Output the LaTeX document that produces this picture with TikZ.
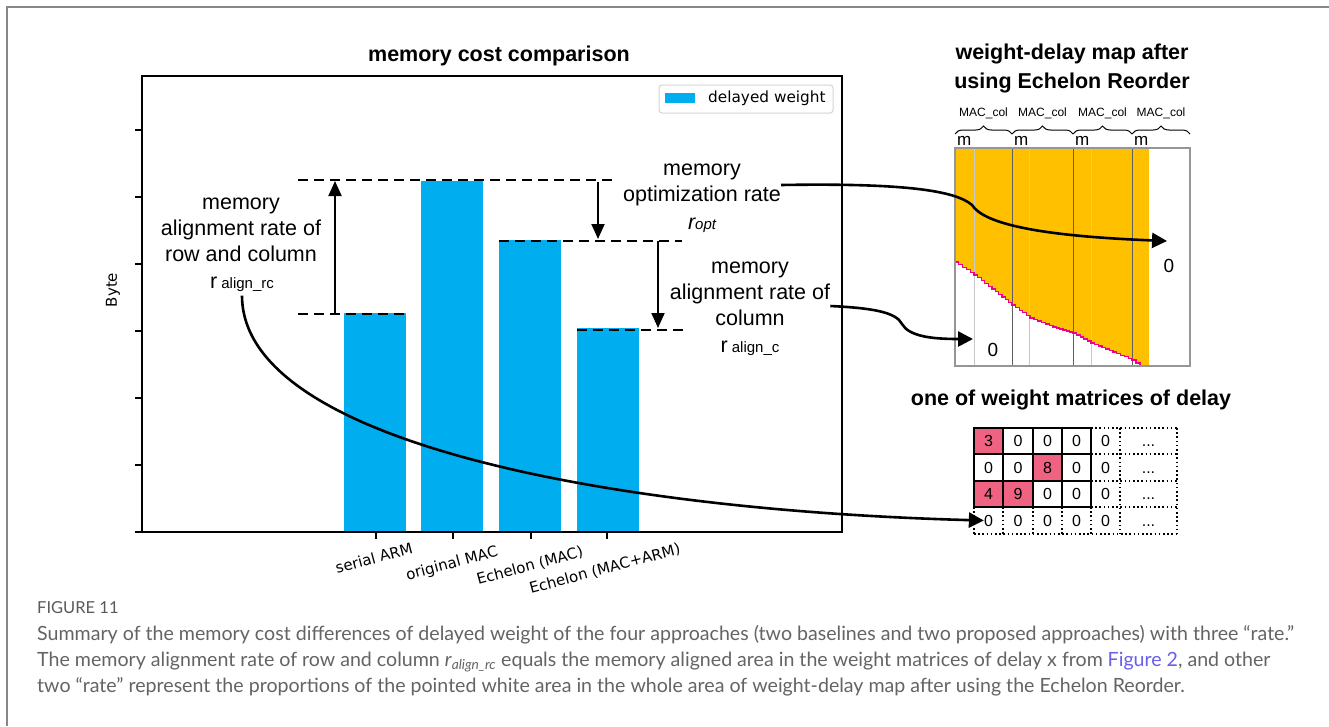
\documentclass[tikz,border=0pt]{standalone}
\usepackage{fontspec}
\setmainfont{Liberation Sans}
\newfontfamily\mplfont{DejaVu Sans}
\newfontfamily\capfont{Lato}
\usetikzlibrary{arrows.meta,decorations.pathreplacing}

\definecolor{barblue}{RGB}{0,174,239}
\definecolor{mapgold}{RGB}{255,192,0}
\definecolor{cellpink}{RGB}{240,98,130}
\definecolor{framegray}{RGB}{135,135,135}
\definecolor{capgray}{RGB}{100,100,100}
\definecolor{linkblue}{RGB}{105,95,235}
\definecolor{legendgray}{RGB}{212,212,212}
\definecolor{sepgray}{RGB}{95,95,95}
\definecolor{faintgray}{RGB}{200,200,200}
\definecolor{boxgray}{RGB}{150,150,150}

\tikzset{
  lbl/.style={font=\fontsize{21.5}{26}\selectfont, align=center, inner sep=0pt},
  ttl/.style={font=\bfseries\fontsize{21.5}{29}\selectfont, align=center, inner sep=0pt},
  mpl/.style={font=\mplfont\fontsize{15}{17}\selectfont, inner sep=0pt},
  bar/.style={fill=barblue},
  guide/.style={line width=2.2pt, dash pattern=on 10pt off 6pt},
  gaparrow/.style={line width=2pt, -{Triangle[length=15pt,width=13pt]}},
  link/.style={line width=2.6pt, -{Triangle[length=15pt,width=15pt]}},
  stair/.style={magenta, line width=1.3pt},
  cell/.style={font=\fontsize{16}{18}\selectfont, inner sep=0pt},
  dotline/.style={line width=1.6pt, dash pattern=on 1.6pt off 2.6pt},
  brc/.style={decorate, decoration={brace, amplitude=8pt}, line width=1pt},
  caption/.style={font=\capfont\fontsize{19.6}{24}\selectfont, text=capgray, inner sep=0pt, anchor=base west},
}

% boundary of the filled part of the weight-delay map
\newcommand\stairlist{955/262/974/275, 974/275/992/289, 992/289/1012/305, 1012/305/1030/318,
  1030/318/1053/327, 1053/327/1073/333, 1073/333/1091/343, 1091/343/1113/352,
  1113/352/1132/360, 1132/360/1140/366}

\begin{document}
\begin{tikzpicture}[x=1pt,y=-1pt]
\useasboundingbox (0,0) rectangle (1329,726);
\fill[white] (0,0) rectangle (1329,726);

% page frame
\draw[framegray, line width=2pt] (7,726) -- (7,7) -- (1329,7);

% ---------------- bar chart ----------------
\node[ttl] (charttitle) at (499,56) {memory cost comparison};

\fill[bar] (344,313) rectangle (406,532);
\fill[bar] (421,181) rectangle (483,532);
\fill[bar] (499,240) rectangle (561,532);
\fill[bar] (577,328) rectangle (639,532);

\draw[line width=1.3pt] (142,76) rectangle (842,532);
\foreach \y in {130,197,264,331,398,465,532}
  \draw[line width=1.2pt] (135,\y) -- (142,\y);
\foreach \x in {376,453,531,607}
  \draw[line width=1.2pt] (\x,532) -- (\x,539);

\node[mpl, rotate=15] (tickA) at (374,558) {serial ARM};
\node[mpl, rotate=15] (tickB) at (452,564) {original MAC};
\node[mpl, rotate=15] (tickC) at (530,566) {Echelon (MAC)};
\node[mpl, rotate=15] (tickD) at (605,569) {Echelon (MAC+ARM)};
\node[mpl, rotate=90] (ylabel) at (113,290) {Byte};

% legend
\draw[legendgray, line width=1pt, rounded corners=3pt, fill=white] (659,85) rectangle (833,113);
\fill[barblue] (665,93) rectangle (695,103);
\node[mpl, font=\mplfont\fontsize{15.3}{17}\selectfont, anchor=west] (legtext) at (708,98) {delayed weight};

% level guides
\coordinate (lvlTopL) at (298,180);  \coordinate (lvlTopR) at (615,180);
\coordinate (lvlMidL) at (499,241);  \coordinate (lvlMidR) at (682,241);
\coordinate (lvlArmL) at (298,314);  \coordinate (lvlArmR) at (405,314);
\coordinate (lvlLowL) at (577,330);  \coordinate (lvlLowR) at (684,330);
\draw[guide] (lvlTopL) -- (lvlTopR);
\draw[guide] (lvlMidL) -- (lvlMidR);
\draw[guide] (lvlArmL) -- (lvlArmR);
\draw[guide] (lvlLowL) -- (lvlLowR);

% rate arrows
\coordinate (upFrom) at (335,314);   \coordinate (upTo) at (335,181);
\coordinate (optFrom) at (598,182);  \coordinate (optTo) at (598,239);
\coordinate (colFrom) at (658,241);  \coordinate (colTo) at (658,328);
\draw[gaparrow] (upFrom) -- (upTo);
\draw[gaparrow] (optFrom) -- (optTo);
\draw[gaparrow] (colFrom) -- (colTo);

% rate labels
\node[lbl] (rcLbl) at (241,230) {memory\\alignment rate of\\row and column};
\node[lbl] (rcSym) at (242,284) {r{\fontsize{15}{16}\selectfont\ align\_rc}};
\node[lbl] (optLbl) at (702,185) {memory\\optimization rate};
\node[lbl] (optSym) at (702,225) {\itshape r{\fontsize{15}{16}\selectfont opt}};
\node[lbl] (colLbl) at (750,294) {memory\\alignment rate of\\column};
\node[lbl] (colSym) at (750,348) {r{\fontsize{15}{16}\selectfont\ align\_c}};

% ---------------- weight-delay map ----------------
\node[ttl] (mapTitle) at (1072,68) {weight-delay map after\\using Echelon Reorder};

\foreach \xa/\ya/\xb/\yb in \stairlist {
  \pgfmathtruncatemacro\n{max(1,round((\xb-\xa)/3.6))}
  \foreach \k in {1,...,\n} {
    \pgfmathsetmacro\xp{\xa+(\xb-\xa)*(\k-1)/\n}
    \pgfmathsetmacro\xq{\xa+(\xb-\xa)*\k/\n}
    \pgfmathsetmacro\yp{\ya+(\yb-\ya)*(\k-1)/\n}
    \fill[mapgold] (\xp,148) rectangle (\xq+0.5,\yp);
  }
}
\fill[mapgold] (1140,148) rectangle (1149,366);

\foreach \x in {974,1029,1091}
  \draw[faintgray, line width=1pt] (\x,148) -- (\x,366);
\foreach \x in {1012,1073,1132}
  \draw[sepgray, line width=1pt] (\x,148) -- (\x,366);

\foreach \xa/\ya/\xb/\yb in \stairlist {
  \pgfmathtruncatemacro\n{max(1,round((\xb-\xa)/3.6))}
  \foreach \k in {1,...,\n} {
    \pgfmathsetmacro\xp{\xa+(\xb-\xa)*(\k-1)/\n}
    \pgfmathsetmacro\xq{\xa+(\xb-\xa)*\k/\n}
    \pgfmathsetmacro\yp{\ya+(\yb-\ya)*(\k-1)/\n}
    \pgfmathsetmacro\yq{\ya+(\yb-\ya)*\k/\n}
    \draw[stair, line cap=rect] (\xp,\yp) -- (\xq,\yp) -- (\xq,\yq);
  }
}

\draw[boxgray, line width=1.3pt] (955,148) rectangle (1190,366);

% column groups
\foreach \xa/\xb [count=\i] in {955/1012, 1012/1073, 1073/1132, 1132/1190} {
  \draw[brc] (\xa,134) -- (\xb,134);
  \node[font=\fontsize{12}{14}\selectfont, inner sep=0pt] (maccol\i) at ({(\xa+\xb)/2},113) {MAC\_col};
  \node[font=\fontsize{17}{18}\selectfont, inner sep=0pt, anchor=west] (mlab\i) at (\xa+2,141) {m};
}

\node[font=\fontsize{19}{20}\selectfont, inner sep=0pt] (zeroA) at (1169,266) {0};
\node[font=\fontsize{19}{20}\selectfont, inner sep=0pt] (zeroB) at (993,350) {0};
\coordinate (optTarget) at (1167,241);
\coordinate (colTarget) at (973,339);

% ---------------- delay matrix ----------------
\node[ttl] (matTitle) at (1071,400) {one of weight matrices of delay};

\fill[cellpink] (974,428) rectangle (1003,454);
\fill[cellpink] (1033,454) rectangle (1062,481);
\fill[cellpink] (974,481) rectangle (1003,507);
\fill[cellpink] (1003,481) rectangle (1033,507);

\draw[line width=1.6pt] (974,428) rectangle (1091,507);
\foreach \x in {1003,1033,1062}
  \draw[line width=1.6pt] (\x,428) -- (\x,507);
\foreach \y in {454,481}
  \draw[line width=1.6pt] (974,\y) -- (1091,\y);

\foreach \y in {428,454,481,507}
  \draw[dotline] (1091,\y) -- (1177,\y);
\draw[dotline] (974,534) -- (1177,534);
\foreach \x in {1120,1177}
  \draw[dotline] (\x,428) -- (\x,534);
\foreach \x in {974,1003,1033,1062,1091}
  \draw[dotline] (\x,507) -- (\x,534);

\foreach \vals [count=\r] in {{3,0,0,0,0}, {0,0,8,0,0}, {4,9,0,0,0}, {0,0,0,0,0}} {
  \pgfmathsetmacro\cy{{441,467.5,494,520.5}[\r-1]}
  \foreach \v [count=\c] in \vals {
    \pgfmathsetmacro\cx{{988.5,1018,1047.5,1076.5,1105.5}[\c-1]}
    \node[cell] (c\r\c) at (\cx,\cy) {\v};
  }
  \node[cell, anchor=base] (c\r6) at (1148.5,\cy+5.5) {...};
}

% ---------------- links into the map and the matrix ----------------
\draw[link] (optLbl.east) .. controls (900,183) and (955,190) .. (972,205)
  .. controls (984,224) and (1040,236) .. (optTarget);
\draw[link] ([yshift=-12pt]colLbl.east) .. controls (872,308) and (896,312) .. (902,324)
  .. controls (909,336) and (930,339) .. (colTarget);
\draw[link] ([yshift=-4pt]rcSym.south) .. controls (242,440) and (600,510) .. (c41.west);

% ---------------- caption ----------------
\node[caption, font=\capfont\fontsize{16.5}{18}\selectfont, text=capgray!90!black] (figno) at (37,613) {FIGURE 11};
\node[caption] (capA) at (37,640) {Summary of the memory cost differences of delayed weight of the four approaches (two baselines and two proposed approaches) with three “rate.”};
\node[caption] (capB) at (37,666) {The memory alignment rate of row and column \textit{r}\textsubscript{\textit{align\_rc}} equals the memory aligned area in the weight matrices of delay x from \textcolor{linkblue}{Figure 2}, and other};
\node[caption] (capC) at (37,692) {two “rate” represent the proportions of the pointed white area in the whole area of weight-delay map after using the Echelon Reorder.};
\end{tikzpicture}
\end{document}
